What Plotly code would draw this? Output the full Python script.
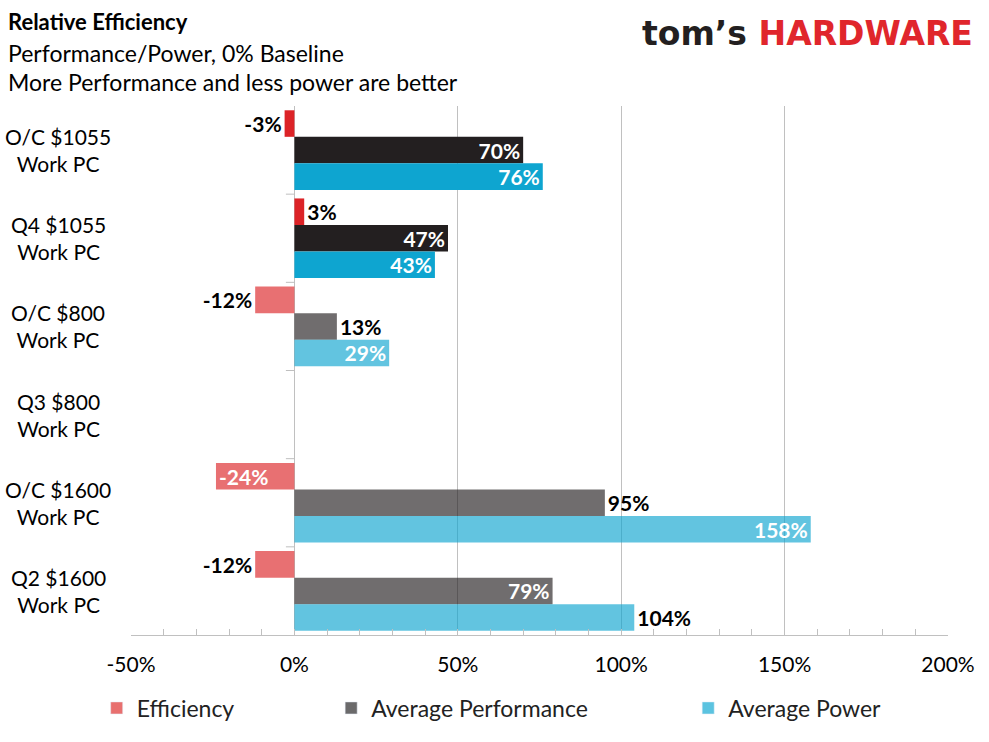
import plotly.graph_objects as go

# Datos del gráfico
categorias = ["O/C $1055<br>Work PC", "Q4 $1055<br>Work PC", "O/C $800<br>Work PC",
              "Q3 $800<br>Work PC", "O/C $1600<br>Work PC", "Q2 $1600<br>Work PC"]
eficiencia = [-3, 3, -12, None, -24, -12]
rendimiento = [70, 47, 13, None, 95, 79]
potencia = [76, 43, 29, None, 158, 104]
ticks_x = [-50, 0, 50, 100, 150, 200]

# Posición de las etiquetas (dentro / fuera de la barra)
pos_eficiencia = ["outside", "outside", "outside", "none", "inside", "outside"]
pos_rendimiento = ["inside", "inside", "outside", "none", "outside", "inside"]
pos_potencia = ["inside", "inside", "inside", "none", "inside", "outside"]

# Los dos primeros sistemas van resaltados, el resto más claro
opacidad = [1, 1, 0.65, 0.65, 0.65, 0.65]

series = [
    ("Efficiency", eficiencia, pos_eficiencia, "#dc2327", "#e8706f"),
    ("Average Performance", rendimiento, pos_rendimiento, "#231f20", "#6b6a6b"),
    ("Average Power", potencia, pos_potencia, "#0ea5d0", "#5bc3e0"),
]

fuente = "Lato"
fig = go.Figure()

for nombre, valores, posiciones, color, color_claro in series:
    fig.add_trace(go.Bar(
        y=categorias,
        x=valores,
        orientation="h",
        name=nombre,
        marker=dict(color=color, opacity=opacidad, line=dict(width=0)),
        text=[f"{v}%" if v is not None else "" for v in valores],
        textposition=posiciones,
        textangle=0,
        constraintext="none",
        insidetextfont=dict(family=fuente, size=21, color="white", weight="bold"),
        outsidetextfont=dict(family=fuente, size=21, color="black", weight="bold"),
        cliponaxis=False,
        showlegend=False,
        hoverinfo="skip",
    ))

# Entradas de la leyenda (colores claros), en un eje aparte para no ocupar hueco en el grupo
leyendas = ["legend", "legend2", "legend3"]
for (nombre, _, _, _, color_claro), ley in zip(series, leyendas):
    fig.add_trace(go.Bar(
        y=[None], x=[None], orientation="h", name=nombre, yaxis="y2",
        marker=dict(color=color_claro), legend=ley, showlegend=True,
    ))

# Marcas del eje de categorías sobre la línea del 0%
for i in range(len(categorias) - 1):
    fig.add_shape(type="line", xref="x", yref="y",
                  x0=-2.6, x1=0, y0=i + 0.5, y1=i + 0.5,
                  line=dict(color="#bfbfbf", width=1))

# Etiquetas de categoría centradas (como en Excel)
anotaciones = [
    dict(text=cat, xref="paper", yref="y", x=-0.089, y=cat, xanchor="center",
         yanchor="middle", align="center", showarrow=False,
         font=dict(family=fuente, size=21, color="black"))
    for cat in categorias
]

gris = "#c0c0c0"
estilo_leyenda = dict(orientation="h", yanchor="middle", y=-0.138,
                      font=dict(family=fuente, size=23, color="#222"),
                      bgcolor="rgba(0,0,0,0)")

fig.update_layout(
    width=989, height=742,
    paper_bgcolor="white", plot_bgcolor="white",
    font=dict(family=fuente, size=20, color="black"),
    barmode="group", bargap=0.097, bargroupgap=0,
    margin=dict(l=131, r=41, t=106, b=99),
    xaxis=dict(
        range=[-50, 200], tickvals=ticks_x, ticktext=[f"{t}%" for t in ticks_x],
        showgrid=True, gridcolor=gris, gridwidth=1,
        zeroline=True, zerolinecolor=gris, zerolinewidth=1,
        showline=True, linecolor=gris, linewidth=1,
        ticks="inside", ticklen=6, tickcolor=gris,
        minor=dict(dtick=10, ticks="inside", ticklen=6, tickcolor=gris, showgrid=False),
        ticklabelstandoff=11,
        tickfont=dict(family=fuente, size=21, color="black"),
    ),
    yaxis=dict(
        autorange="reversed", showgrid=False, zeroline=False, showline=False,
        ticks="", showticklabels=False,
    ),
    yaxis2=dict(overlaying="y", visible=False),
    legend=dict(x=-0.042, **estilo_leyenda),
    legend2=dict(x=0.245, **estilo_leyenda),
    legend3=dict(x=0.682, **estilo_leyenda),
    annotations=anotaciones + [
        dict(text="<b>Relative Efficiency</b>", xref="paper", yref="paper",
             x=-0.153, y=1.160, xanchor="left", yanchor="middle", showarrow=False,
             font=dict(family=fuente, size=22, color="black")),
        dict(text="Performance/Power, 0% Baseline", xref="paper", yref="paper",
             x=-0.153, y=1.100, xanchor="left", yanchor="middle", showarrow=False,
             font=dict(family=fuente, size=23, color="black")),
        dict(text="More Performance and less power are better", xref="paper", yref="paper",
             x=-0.153, y=1.045, xanchor="left", yanchor="middle", showarrow=False,
             font=dict(family=fuente, size=23, color="black")),
        dict(text="<span style='color:#231f20'>tom’s</span> <span style='color:#e0262c'>HARDWARE</span>",
             xref="paper", yref="paper", x=1.033, y=1.137, xanchor="right", yanchor="middle",
             showarrow=False, font=dict(family="DejaVu Sans", size=33, weight="bold")),
    ],
)

# Quitar el margen del <body> y el desbordamiento para que la figura ocupe justo la ventana
ajuste_pagina = (
    "document.body.style.margin='0';"
    "document.body.style.overflow='hidden';"
    "document.documentElement.style.overflow='hidden';"
    "document.body.style.height='742px';"
)
fig.write_html("out.html", post_script=ajuste_pagina, config={"displayModeBar": False})
